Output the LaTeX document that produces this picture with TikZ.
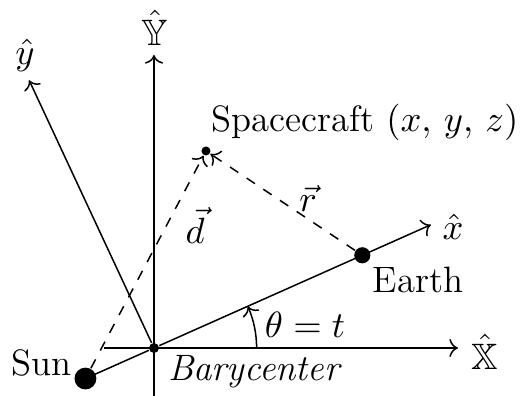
\documentclass[tikz,border=0pt]{standalone}
\usepackage{amsmath,amssymb}
\usetikzlibrary{arrows.meta,positioning,calc}
\tikzset{
  axe/.style={->,draw=black},
  vece/.style={->,dashed,draw=black},
  body/.style={circle,fill=black,inner sep=0pt},
  lab/.style={inner sep=1pt,font=\fontsize{11}{13}\selectfont},
}
\newcommand{\vX}{\hat{\mathbb{X}}}
\newcommand{\vY}{\hat{\mathbb{Y}}}

\begin{document}
\begin{tikzpicture}[x=1cm,y=1cm,line width=0.45pt]
  \useasboundingbox (-1.621,-0.505) rectangle (3.863,3.663);
  \def\TH{24}

  % ---- bodies ----
  \node[body,minimum size=1.05mm] (bary)  at (0,0) {};
  \node[body,minimum size=2.3mm]  (sun)   at ({180+\TH}:0.79) {};
  \node[body,minimum size=1.7mm]  (earth) at (\TH:2.40) {};
  \node[body,minimum size=0.95mm] (craft) at (0.547,2.074) {};

  % ---- axis ends ----
  \coordinate (xl) at (-0.526,0);
  \coordinate (xr) at (3.20,0);
  \coordinate (yb) at (0,-0.52);
  \coordinate (yt) at (0,3.084);
  \coordinate (xs) at ({180+\TH}:0.90);
  \coordinate (rx) at (\TH:3.19);
  \coordinate (ry) at ({\TH+91}:3.11);

  % ---- inertial axes ----
  \draw[axe] (xl) -- (xr);
  \draw[axe] (yb) -- (yt);

  % ---- rotating axes ----
  \draw (xs) -- (bary);
  \draw[axe] (bary) -- (earth.center) -- (rx);
  \draw[axe] (bary) -- (ry);

  % ---- position vectors ----
  \draw[vece] (sun) -- (craft);
  \draw[vece] (earth) -- (craft);

  % ---- angle ----
  \draw[->] (1.08,0) arc[start angle=0,end angle=\TH,radius=1.08];

  % ---- labels ----
  \node[lab] (lX)   at (3.484,-0.039) {$\vX$};
  \node[lab] (lY)   at (0.01,3.368) {$\vY$};
  \node[lab] (lx)   at (3.147,1.277) {$\hat{x}$};
  \node[lab] (ly)   at (-1.358,3.084) {$\hat{y}$};
  \node[lab] (lsc)  at (2.22,2.379) {Spacecraft $(x,\,y,\,z)$};
  \node[lab] (lr)   at (1.621,1.579) {$\vec{r}$};
  \node[lab] (ld)   at (0.432,1.29) {$\vec{d}$};
  \node[lab] (lear) at (2.779,0.716) {Earth};
  \node[lab] (lsun) at (-1.18,-0.158) {Sun};
  \node[lab] (lbar) at (1.063,-0.253) {\textit{Barycenter}};
  \node[lab] (lth)  at (1.59,0.242) {$\theta = t$};
\end{tikzpicture}
\end{document}
